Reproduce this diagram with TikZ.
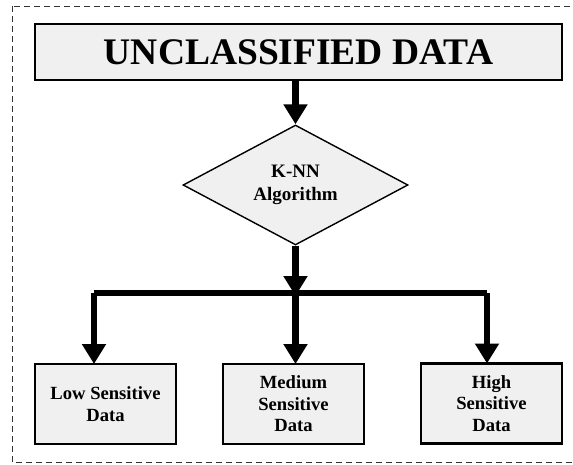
\documentclass[tikz,border=0pt]{standalone}
\usepackage{fontspec}
\setmainfont{Liberation Serif}
\usetikzlibrary{shapes.geometric,arrows.meta}
\definecolor{boxfill}{HTML}{F0F0F0}
\definecolor{framegray}{HTML}{333333}
\begin{document}
\begin{tikzpicture}[x=1pt,y=-1pt,
  databox/.style={draw, line width=2.6pt, fill=boxfill, inner sep=0pt, outer sep=0pt,
    minimum width=141pt, minimum height=80pt, align=center,
    font=\fontsize{18.6}{21.5}\selectfont\bfseries},
  flow/.style={line width=6.5pt},
  flowarrow/.style={line width=6.5pt, -{Triangle[width=23pt,length=20pt]}}]
\useasboundingbox (0,0) rectangle (573,464);
\begin{scope}
\clip (0,0) rectangle (573,464);
\draw[framegray, line width=1pt, dash pattern=on 6pt off 4pt] (12,6) rectangle (590,462);
\end{scope}
\node[draw, line width=2.6pt, fill=boxfill, inner sep=0pt, minimum width=527pt, minimum height=56pt,
  font=\fontsize{37.5}{40}\selectfont\bfseries] (raw) at (298.5,52){UNCLASSIFIED DATA};
\node[diamond, draw, line width=1.4pt, fill=boxfill, aspect=2, inner sep=0pt,
  minimum width=225pt, minimum height=120pt, align=center,
  font=\fontsize{19}{23}\selectfont\bfseries] (knn) at (295.5,185){K-NN\\Algorithm};
\node[databox] (low) at (105.5,404){Low Sensitive\\Data};
\node[databox] (medium) at (293.5,404){Medium\\Sensitive\\Data};
\node[databox] (high) at (491.5,403.5){High\\Sensitive\\Data};
\coordinate (split) at (295.5,293);
\coordinate (lowturn) at (94,293);
\coordinate (highturn) at (487,293);
\draw[flowarrow](raw.south -| knn.north) -- (knn.north);
\draw[flowarrow](knn.south) -- ([yshift=-3pt]split);
\draw[flow](lowturn) -- (highturn);
\draw[flowarrow](lowturn) -- (lowturn |- low.north);
\draw[flowarrow](split) -- (split |- medium.north);
\draw[flowarrow](highturn) -- (highturn |- high.north);
\end{tikzpicture}
\end{document}
